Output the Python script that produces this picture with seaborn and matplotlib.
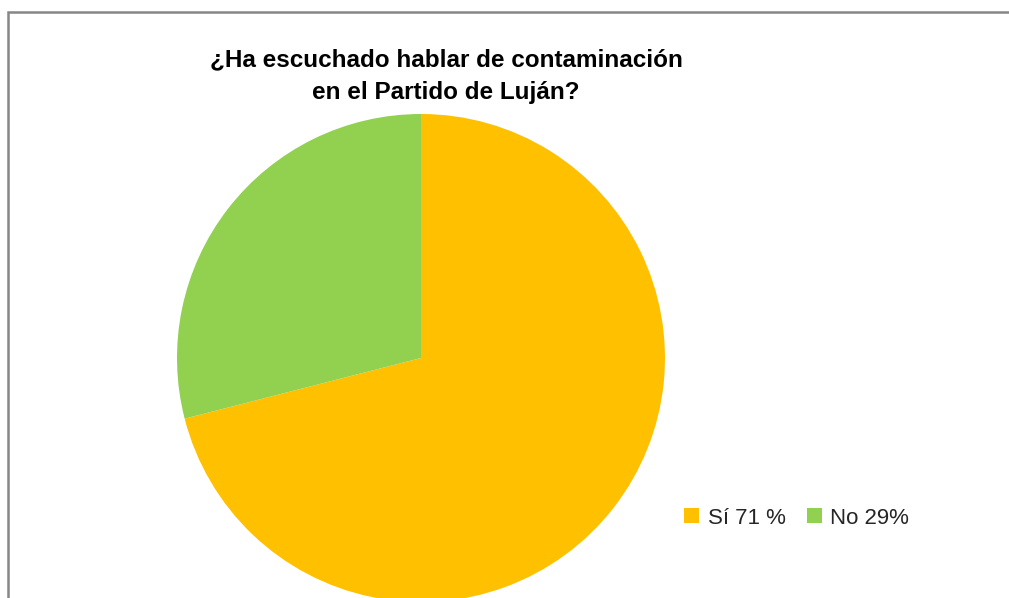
import matplotlib
matplotlib.use("Agg")
import matplotlib.pyplot as plt
import seaborn as sns
from matplotlib.patches import Rectangle

# === DATA ===
labels = ["Sí 71 %", "No 29%"]
values = [71, 29]
colors = ["#FFC000", "#92D050"]
title = "¿Ha escuchado hablar de contaminación\nen el Partido de Luján?"

sns.set_theme(style="white")
plt.rcParams['font.family'] = ['Liberation Sans', 'DejaVu Sans']

fig = plt.figure(figsize=(10.09, 5.98), dpi=100)

# pie axes: centre at (421, 358) px, radius ~244 px, cut off at the bottom
W, H = 1009, 598
r = 244
cx, cy = 421, H - 358
ax = fig.add_axes([(cx - r) / W, (cy - r) / H, 2 * r / W, 2 * r / H])
wedges, _ = ax.pie(values, colors=colors, startangle=90, counterclock=False,
                   radius=1, wedgeprops=dict(linewidth=0))
ax.set_xlim(-1, 1)
ax.set_ylim(-1, 1)
ax.set_aspect('equal')
ax.axis('off')

fig.text(446 / W, 1 - 76 / H, title, ha='center', va='center',
         fontsize=17.5, fontweight='bold', color='black', linespacing=1.55)

fig.legend(wedges, labels, loc='center left',
           bbox_to_anchor=(664 / W, 1 - 518 / H), ncol=2, frameon=False,
           fontsize=16, handlelength=0.68, handleheight=0.65,
           handletextpad=0.38, columnspacing=0.95)

# chart-area border (only left and top visible)
fig.patches.append(Rectangle((8 / W, -0.1), 1.2, 1.1 - 12 / H,
                             transform=fig.transFigure, fill=False,
                             edgecolor='#878787', linewidth=1.8))

fig.savefig("out.png", dpi=100, facecolor='white')
